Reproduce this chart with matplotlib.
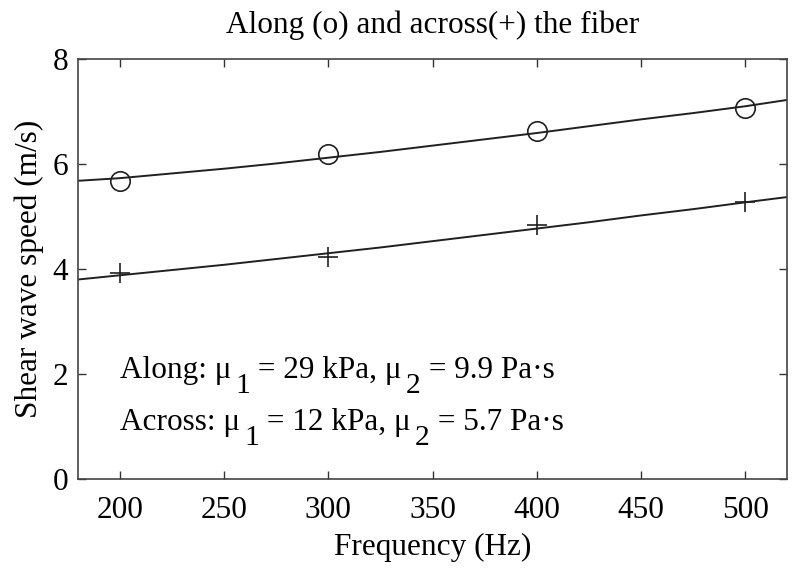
import matplotlib

matplotlib.use("Agg")
import matplotlib.pyplot as plt
from matplotlib.transforms import offset_copy

# fitted curves, values
fit_freq = [180, 200, 225, 250, 275, 300, 325, 350, 375, 400, 425, 450, 475, 500, 520]
fit_along = [5.68, 5.73, 5.82, 5.91, 6.01, 6.12, 6.23, 6.35, 6.47, 6.59, 6.72, 6.85, 6.97, 7.10, 7.22]
fit_across = [3.80, 3.88, 3.98, 4.08, 4.19, 4.30, 4.41, 4.53, 4.65, 4.77, 4.89, 5.02, 5.14, 5.27, 5.37]

# measured speeds
meas_freq = [200, 300, 400, 500]
meas_along = [5.68, 6.20, 6.62, 7.07]
meas_across = [3.92, 4.23, 4.84, 5.28]

x_ticks = [200, 250, 300, 350, 400, 450, 500]
y_ticks = [0, 2, 4, 6, 8]

# (text, lowered as subscript?)
along_parts = [("Along: μ", False), ("1", True), (" = 29 kPa, μ", False), ("2", True), (" = 9.9 Pa·s", False)]
across_parts = [("Across: μ", False), ("1", True), (" = 12 kPa, μ", False), ("2", True), (" = 5.7 Pa·s", False)]

plt.rcParams["font.family"] = ["Liberation Serif", "DejaVu Serif"]

FS = 22.5


def draw_parts(fig, ax, x, y, parts):
    renderer = fig.canvas.get_renderer()
    dx = 0.0
    for s, sub in parts:
        size = FS * 0.95 if sub else FS
        lead = 3.0 if sub else 0.0
        dy = -11.0 if sub else 0.0
        tr = offset_copy(ax.transData, fig=fig, x=dx + lead, y=dy, units="points")
        t = ax.text(x, y, s, fontsize=size, transform=tr, va="baseline", ha="left")
        w = t.get_window_extent(renderer).width * 72 / fig.dpi
        dx += w + lead


fig = plt.figure(figsize=(8.0, 5.74), dpi=100)
ax = fig.add_axes([78 / 800, 1 - 479 / 574, (787 - 78) / 800, (479 - 59) / 574])

ax.plot(fit_freq, fit_along, color="#202020", lw=1.4)
ax.plot(fit_freq, fit_across, color="#202020", lw=1.4)
ax.plot(meas_freq, meas_along, "o", ms=14, mfc="none", mec="#202020", mew=1.2)
ax.plot(meas_freq, meas_across, "+", ms=15, mec="#202020", mew=1.2)

ax.set_xlim(180, 520)
ax.set_ylim(0, 8)
ax.set_xticks(x_ticks)
ax.set_yticks(y_ticks)
ax.tick_params(direction="in", length=6, width=1, top=True, right=True,
               labelsize=FS, colors="#333333", labelcolor="black")
ax.tick_params(axis="x", pad=12)
ax.tick_params(axis="y", pad=7)
for sp in ax.spines.values():
    sp.set_color("#444444")
    sp.set_linewidth(1.2)

ax.set_title("Along (o) and across(+) the fiber", fontsize=FS, pad=19)
ax.set_xlabel("Frequency (Hz)", fontsize=FS, labelpad=6)
ax.set_ylabel("Shear wave speed (m/s)", fontsize=FS, labelpad=6)

draw_parts(fig, ax, 200, 1.92, along_parts)
draw_parts(fig, ax, 200, 0.93, across_parts)

fig.savefig("out.png", dpi=100)
